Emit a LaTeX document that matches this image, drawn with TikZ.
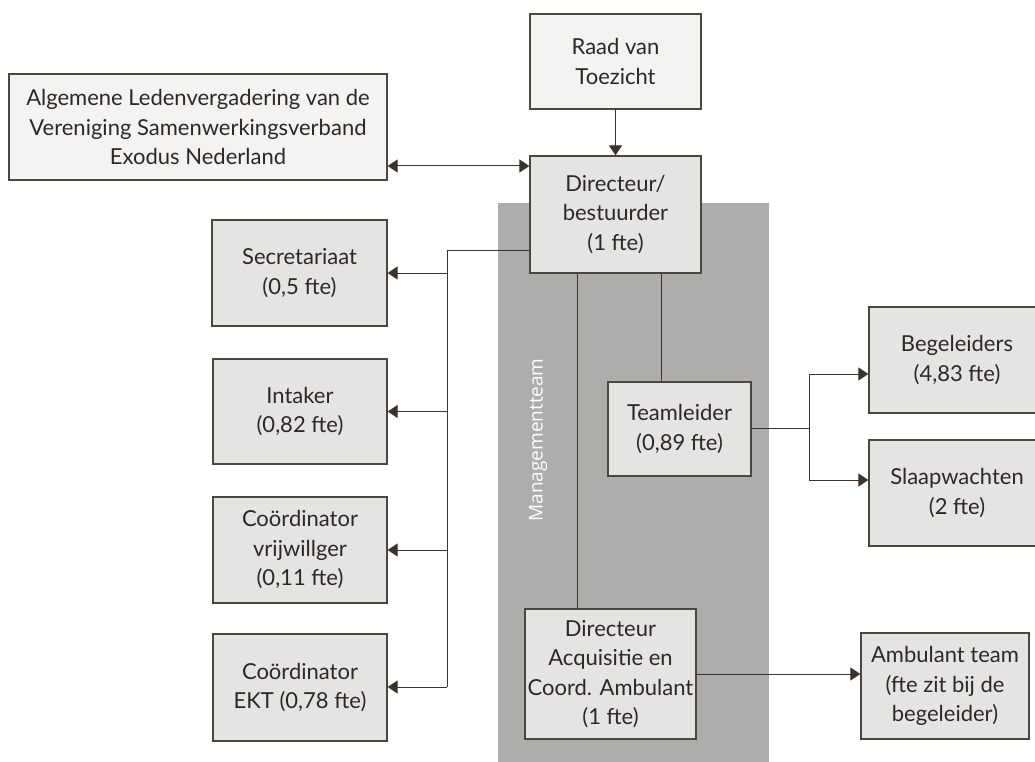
\documentclass[tikz,border=0pt]{standalone}
\usepackage{fontspec}
\setmainfont{Lato}
\newfontfamily\mtfont{Open Sans}
\usetikzlibrary{arrows.meta,calc}
\definecolor{txt}{HTML}{2E2824}
\definecolor{bord}{HTML}{4D4540}
\definecolor{boxfill}{HTML}{E4E4E3}
\definecolor{lightfill}{HTML}{F3F3F2}
\definecolor{mtgray}{HTML}{ADADAC}
\definecolor{linec}{HTML}{3A322D}
\tikzset{
  orgbox/.style={draw=bord, line width=1.3pt, fill=boxfill, text=txt, align=center,
    inner sep=0pt, font=\fontsize{22}{29.5}\selectfont},
  topbox/.style={orgbox, fill=lightfill},
  conn/.style={draw=linec, line width=1pt},
  arr/.style={conn, -{Triangle[length=10pt,width=13pt]}},
  darr/.style={conn, {Triangle[length=10pt,width=13pt]}-{Triangle[length=10pt,width=13pt]}},
}
\begin{document}
\begin{tikzpicture}[x=1pt,y=-1pt]
\useasboundingbox (0,0) rectangle (1035,762);
% management team background
\fill[mtgray] (498,203) rectangle (769,762);
\node[rotate=90, text=white, font=\mtfont\fontsize{19}{22}\selectfont] (mt) at (538,440) {Managementteam};

% nodes
\node[topbox, minimum width=378pt, minimum height=106pt] (alv) at (198,127)
  {Algemene Ledenvergadering van de\\Vereniging Samenwerkingsverband\\Exodus Nederland};
\node[topbox, minimum width=171pt, minimum height=95pt] (raad) at (615.5,61.5)
  {Raad van\\Toezicht};
\node[orgbox, minimum width=171pt, minimum height=117pt] (dir) at (615.5,214.5)
  {Directeur/\\bestuurder\\(1 fte)};
\node[orgbox, minimum width=175pt, minimum height=106pt] (sec) at (299.5,273)
  {Secretariaat\\(0,5 fte)};
\node[orgbox, minimum width=174pt, minimum height=105pt] (int) at (300,411.5)
  {Intaker\\(0,82 fte)};
\node[orgbox, minimum width=174pt, minimum height=106pt] (cv) at (300,550)
  {Coördinator\\vrijwillger\\(0,11 fte)};
\node[orgbox, minimum width=174pt, minimum height=107pt] (ekt) at (300,687.5)
  {Coördinator\\EKT (0,78 fte)};
\node[orgbox, minimum width=143pt, minimum height=94pt] (team) at (679.5,429)
  {Teamleider\\(0,89 fte)};
\node[orgbox, minimum width=176pt, minimum height=106pt] (beg) at (957,360)
  {Begeleiders\\(4,83 fte)};
\node[orgbox, minimum width=176pt, minimum height=106pt] (slaap) at (957,493)
  {Slaapwachten\\(2 fte)};
\node[orgbox, minimum width=171pt, minimum height=130pt] (dac) at (610.5,674)
  {Directeur\\Acquisitie en\\Coord. Ambulant\\(1 fte)};
\node[orgbox, minimum width=168pt, minimum height=106pt] (amb) at (945,686)
  {Ambulant team\\(fte zit bij de\\begeleider)};

% helper coordinates
\coordinate (bus) at (447,250);
\coordinate (busend) at (447,687);
\coordinate (lv) at (661,0);
\coordinate (av) at (577,0);
\coordinate (split) at (809,428);
\coordinate (ap) at (0,166);

% connectors
\draw[arr] (raad.south) -- (dir.north);
\draw[darr] (alv.east |- ap) -- (dir.west |- ap);
\draw[conn] (dir.west |- bus) -- (bus) -- (busend);
\draw[arr] (sec.east -| bus) -- (sec.east);
\draw[arr] (int.east -| bus) -- (int.east);
\draw[arr] (cv.east -| bus) -- (cv.east);
\draw[arr] (busend) -- (ekt.east |- busend);
\draw[conn] (dir.south -| lv) -- (team.north -| lv);
\draw[conn] (dir.south -| av) -- (dac.north -| av);
\draw[conn] (team.east |- split) -- (split);
\coordinate (sb) at (809,374);
\coordinate (ss) at (809,480);
\draw[arr] (split) -- (sb) -- (beg.west |- sb);
\draw[arr] (split) -- (ss) -- (slaap.west |- ss);
\draw[arr] (dac.east) -- (amb.west |- dac.east);
\end{tikzpicture}
\end{document}
